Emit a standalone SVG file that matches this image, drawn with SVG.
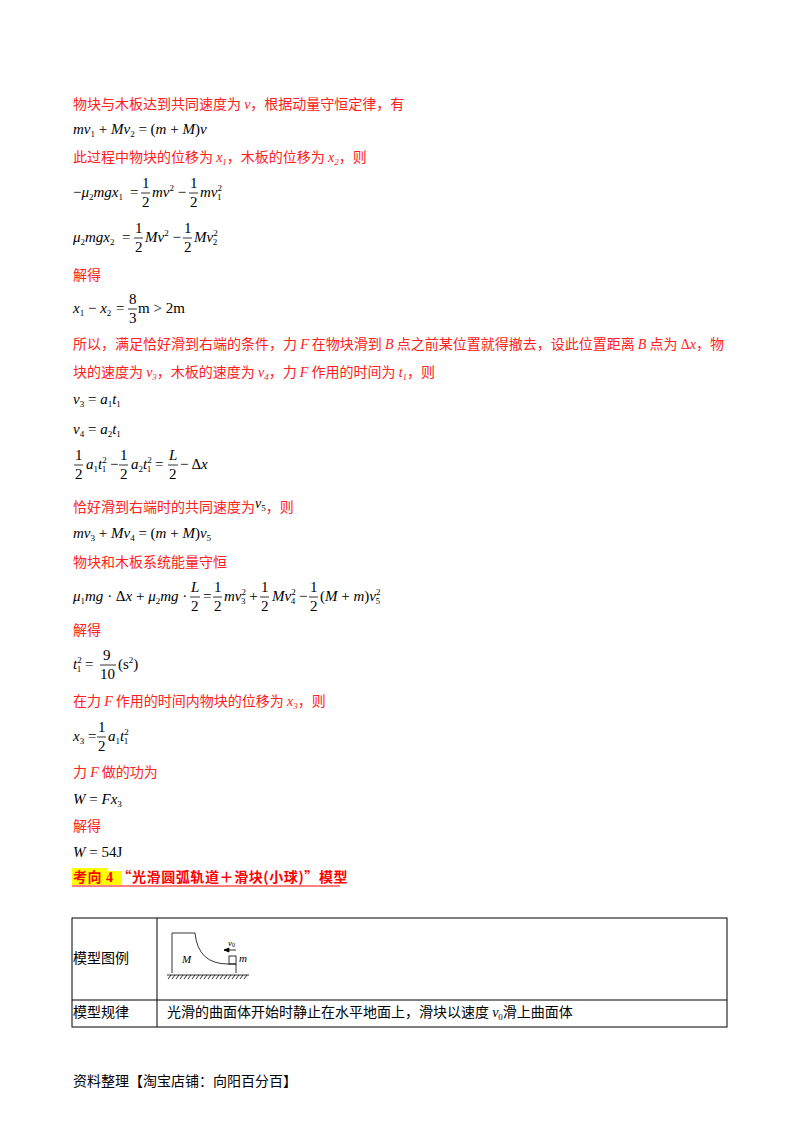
<svg xmlns="http://www.w3.org/2000/svg" width="800" height="1132" viewBox="0 0 800 1132">
<style>
.r{fill:#ff2020;font-family:"Noto Sans CJK SC","Liberation Serif",serif;font-size:14px}
.m{fill:#000;font-family:"Liberation Serif",serif;font-size:15px;font-style:italic}
.n{font-style:normal}
.s{font-size:9px}
.fl{stroke:#000;stroke-width:0.8}
.k{fill:#000;font-family:"Noto Sans CJK SC",sans-serif;font-size:14px}
</style>
<rect width="800" height="1132" fill="#fff"/>
<g id="text">
<text class="r" x="73" y="109">物块与木板达到共同速度为 <tspan font-family="Liberation Serif" font-style="italic">v</tspan>，根据动量守恒定律，有</text>
<text class="m" x="73" y="134">mv<tspan class="s n" dy="3">1</tspan><tspan dy="-3" class="n"> + </tspan>Mv<tspan class="s n" dy="3">2</tspan><tspan dy="-3" class="n"> = (</tspan>m<tspan class="n"> + </tspan>M<tspan class="n">)</tspan>v</text>
<text class="r" x="73" y="162">此过程中物块的位移为 <tspan font-family="Liberation Serif" font-style="italic">x<tspan font-size="9" dy="3">1</tspan></tspan><tspan dy="-3">，木板的位移为 </tspan><tspan font-family="Liberation Serif" font-style="italic">x<tspan font-size="9" dy="3">2</tspan></tspan><tspan dy="-3">，则</tspan></text>
<text class="m" x="73" y="197"><tspan class="n">−</tspan>μ<tspan class="s n" dy="3">2</tspan><tspan dy="-3">mgx</tspan><tspan class="s n" dy="3">1</tspan></text>
<text class="m n" x="130" y="197">=</text>
<text class="m n" x="142" y="188">1</text><line class="fl" x1="141" y1="193" x2="150" y2="193"/><text class="m n" x="142" y="207">2</text>
<text class="m" x="152" y="197">mv<tspan class="s n" dy="-6">2</tspan><tspan class="n" dy="6"> −</tspan></text>
<text class="m n" x="190" y="188">1</text><line class="fl" x1="189" y1="193" x2="198" y2="193"/><text class="m n" x="190" y="207">2</text>
<text class="m" x="200" y="197">mv<tspan class="s n" dy="-6">2</tspan><tspan class="s n" dx="-5" dy="9">1</tspan></text>
<text class="m" x="73" y="242">μ<tspan class="s n" dy="3">2</tspan><tspan dy="-3">mgx</tspan><tspan class="s n" dy="3">2</tspan></text>
<text class="m n" x="122" y="242">=</text>
<text class="m n" x="135" y="233">1</text><line class="fl" x1="134" y1="238" x2="143" y2="238"/><text class="m n" x="135" y="252">2</text>
<text class="m" x="145" y="242">Mv<tspan class="s n" dy="-6">2</tspan><tspan class="n" dy="6"> −</tspan></text>
<text class="m n" x="184" y="233">1</text><line class="fl" x1="183" y1="238" x2="192" y2="238"/><text class="m n" x="184" y="252">2</text>
<text class="m" x="194" y="242">Mv<tspan class="s n" dy="-6">2</tspan><tspan class="s n" dx="-5" dy="9">2</tspan></text>
<text class="r" x="73" y="280">解得</text>
<text class="m" x="73" y="313">x<tspan class="s n" dy="3">1</tspan><tspan class="n" dy="-3"> − </tspan>x<tspan class="s n" dy="3">2</tspan></text>
<text class="m n" x="116" y="313">=</text>
<text class="m n" x="129" y="304">8</text><line class="fl" x1="128" y1="309" x2="137" y2="309"/><text class="m n" x="129" y="323">3</text>
<text class="m n" x="138" y="313">m &gt; 2m</text>
<text class="r" x="73" y="349">所以，满足恰好滑到右端的条件，力 <tspan font-family="Liberation Serif" font-style="italic">F</tspan> 在物块滑到 <tspan font-family="Liberation Serif" font-style="italic">B</tspan> 点之前某位置就得撤去，设此位置距离 <tspan font-family="Liberation Serif" font-style="italic">B</tspan> 点为 <tspan font-family="Liberation Serif">Δ<tspan font-style="italic">x</tspan></tspan>，物</text>
<text class="r" x="73" y="377">块的速度为 <tspan font-family="Liberation Serif" font-style="italic">v<tspan font-size="9" dy="3">3</tspan></tspan><tspan dy="-3">，木板的速度为 </tspan><tspan font-family="Liberation Serif" font-style="italic">v<tspan font-size="9" dy="3">4</tspan></tspan><tspan dy="-3">，力 </tspan><tspan font-family="Liberation Serif" font-style="italic">F</tspan> 作用的时间为 <tspan font-family="Liberation Serif" font-style="italic">t<tspan font-size="9" dy="3">1</tspan></tspan><tspan dy="-3">，则</tspan></text>
<text class="m" x="73" y="404">v<tspan class="s n" dy="3">3</tspan><tspan class="n" dy="-3"> = </tspan>a<tspan class="s n" dy="3">1</tspan><tspan dy="-3">t</tspan><tspan class="s n" dy="3">1</tspan></text>
<text class="m" x="73" y="434">v<tspan class="s n" dy="3">4</tspan><tspan class="n" dy="-3"> = </tspan>a<tspan class="s n" dy="3">2</tspan><tspan dy="-3">t</tspan><tspan class="s n" dy="3">1</tspan></text>
<text class="m n" x="75" y="460">1</text><line class="fl" x1="74" y1="465" x2="83" y2="465"/><text class="m n" x="75" y="479">2</text>
<text class="m" x="86" y="469">a<tspan class="s n" dy="3">1</tspan><tspan dy="-3">t</tspan><tspan class="s n" dy="-6">2</tspan><tspan class="s n" dx="-5" dy="9">1</tspan><tspan class="n" dy="-3"> −</tspan></text>
<text class="m n" x="120" y="460">1</text><line class="fl" x1="119" y1="465" x2="128" y2="465"/><text class="m n" x="120" y="479">2</text>
<text class="m" x="131" y="469">a<tspan class="s n" dy="3">2</tspan><tspan dy="-3">t</tspan><tspan class="s n" dy="-6">2</tspan><tspan class="s n" dx="-5" dy="9">1</tspan><tspan class="n" dy="-3"> =</tspan></text>
<text class="m" x="169" y="460">L</text><line class="fl" x1="168" y1="465" x2="178" y2="465"/><text class="m n" x="169" y="479">2</text>
<text class="m" x="180" y="469"><tspan class="n">− Δ</tspan>x</text>
<text class="r" x="73" y="512">恰好滑到右端时的共同速度为<tspan font-family="Liberation Serif" font-style="italic" fill="#000" dy="-4">v<tspan font-size="9" dy="3" font-style="normal">5</tspan></tspan><tspan dy="1">，则</tspan></text>
<text class="m" x="73" y="538">mv<tspan class="s n" dy="3">3</tspan><tspan class="n" dy="-3"> + </tspan>Mv<tspan class="s n" dy="3">4</tspan><tspan class="n" dy="-3"> = (</tspan>m<tspan class="n"> + </tspan>M<tspan class="n">)</tspan>v<tspan class="s n" dy="3">5</tspan></text>
<text class="r" x="73" y="567">物块和木板系统能量守恒</text>
<text class="m" x="73" y="601">μ<tspan class="s n" dy="3">1</tspan><tspan dy="-3">mg</tspan><tspan class="n"> · Δ</tspan>x<tspan class="n"> + </tspan>μ<tspan class="s n" dy="3">2</tspan><tspan dy="-3">mg</tspan><tspan class="n"> ·</tspan></text>
<text class="m" x="191" y="592">L</text><line class="fl" x1="190" y1="597" x2="200" y2="597"/><text class="m n" x="191" y="611">2</text>
<text class="m n" x="203" y="601">=</text>
<text class="m n" x="214" y="592">1</text><line class="fl" x1="213" y1="597" x2="222" y2="597"/><text class="m n" x="214" y="611">2</text>
<text class="m" x="224" y="601">mv<tspan class="s n" dy="-6">2</tspan><tspan class="s n" dx="-5" dy="9">3</tspan><tspan class="n" dy="-3"> +</tspan></text>
<text class="m n" x="261" y="592">1</text><line class="fl" x1="260" y1="597" x2="269" y2="597"/><text class="m n" x="261" y="611">2</text>
<text class="m" x="272" y="601">Mv<tspan class="s n" dy="-6">2</tspan><tspan class="s n" dx="-5" dy="9">4</tspan><tspan class="n" dy="-3"> −</tspan></text>
<text class="m n" x="310" y="592">1</text><line class="fl" x1="309" y1="597" x2="318" y2="597"/><text class="m n" x="310" y="611">2</text>
<text class="m" x="320" y="601"><tspan class="n">(</tspan>M<tspan class="n"> + </tspan>m<tspan class="n">)</tspan>v<tspan class="s n" dy="-6">2</tspan><tspan class="s n" dx="-5" dy="9">5</tspan></text>
<text class="r" x="73" y="635">解得</text>
<text class="m" x="73" y="669">t<tspan class="s n" dy="-6">2</tspan><tspan class="s n" dx="-5" dy="9">1</tspan><tspan class="n" dy="-3"> =</tspan></text>
<text class="m n" x="103" y="660">9</text><line class="fl" x1="100" y1="665" x2="116" y2="665"/><text class="m n" x="100" y="679">10</text>
<text class="m n" x="118" y="669">(s<tspan class="s" dy="-6">2</tspan><tspan dy="6">)</tspan></text>
<text class="r" x="73" y="706">在力 <tspan font-family="Liberation Serif" font-style="italic">F</tspan> 作用的时间内物块的位移为 <tspan font-family="Liberation Serif" font-style="italic">x<tspan font-size="9" dy="3">3</tspan></tspan><tspan dy="-3">，则</tspan></text>
<text class="m" x="73" y="741">x<tspan class="s n" dy="3">3</tspan><tspan class="n" dy="-3"> =</tspan></text>
<text class="m n" x="98" y="732">1</text><line class="fl" x1="97" y1="737" x2="106" y2="737"/><text class="m n" x="98" y="751">2</text>
<text class="m" x="108" y="741">a<tspan class="s n" dy="3">1</tspan><tspan dy="-3">t</tspan><tspan class="s n" dy="-6">2</tspan><tspan class="s n" dx="-5" dy="9">1</tspan></text>
<text class="r" x="73" y="777">力 <tspan font-family="Liberation Serif" font-style="italic">F</tspan> 做的功为</text>
<text class="m" x="73" y="804">W<tspan class="n"> = </tspan>Fx<tspan class="s n" dy="3">3</tspan></text>
<text class="r" x="73" y="831">解得</text>
<text class="m" x="73" y="857">W<tspan class="n"> = 54J</tspan></text>
</g>
<g id="heading">
<rect x="72" y="868" width="36" height="17" fill="#ffff00"/>
<rect x="108" y="871" width="14" height="14" fill="#ffff00"/>
<text x="73" y="882" fill="#ff0000" font-family="'Noto Sans CJK SC',sans-serif" font-size="14" font-weight="bold" letter-spacing="0.6">考向 <tspan font-family="Liberation Serif">4</tspan>   “光滑圆弧轨道＋滑块(小球)”模型</text>
<line x1="72" y1="886" x2="340" y2="886" stroke="#ff0000" stroke-width="1"/>
</g>
<g id="table" fill="none" stroke="#000" stroke-width="1">
<rect x="72" y="918" width="655" height="109"/>
<line x1="72" y1="1000" x2="727" y2="1000"/>
<line x1="157" y1="918" x2="157" y2="1027"/>
</g>
<g id="cells">
<text class="k" x="73" y="963">模型图例</text>
<text class="k" x="73" y="1017">模型规律</text>
<text class="k" x="167" y="1017">光滑的曲面体开始时静止在水平地面上，滑块以速度 <tspan font-family="Liberation Serif" font-style="italic">v</tspan><tspan font-family="Liberation Serif" font-size="9" dy="3">0</tspan><tspan dy="-3">滑上曲面体</tspan></text>
</g>
<g id="figure" fill="none" stroke="#000" stroke-width="0.8">
<path d="M172 973 V933 H195 Q198 964 228 964 H236 V973"/>
<rect x="229" y="956" width="7" height="8"/>
<line x1="167" y1="975" x2="249" y2="975"/>
<path d="M168 979 l3 -4 M172 979 l3 -4 M176 979 l3 -4 M180 979 l3 -4 M184 979 l3 -4 M188 979 l3 -4 M192 979 l3 -4 M196 979 l3 -4 M200 979 l3 -4 M204 979 l3 -4 M208 979 l3 -4 M212 979 l3 -4 M216 979 l3 -4 M220 979 l3 -4 M224 979 l3 -4 M228 979 l3 -4 M232 979 l3 -4 M236 979 l3 -4 M240 979 l3 -4 M244 979 l3 -4"/>
<line x1="224" y1="950" x2="236" y2="950"/>
<path d="M224 950 l5 -2 v4 z" fill="#000"/>
<text x="182" y="963" fill="#000" stroke="none" font-family="Liberation Serif" font-style="italic" font-size="11">M</text>
<text x="239" y="962" fill="#000" stroke="none" font-family="Liberation Serif" font-style="italic" font-size="11">m</text>
<text x="228" y="946" fill="#000" stroke="none" font-family="Liberation Serif" font-style="italic" font-size="9">v<tspan font-size="6" dy="1" font-style="normal">0</tspan></text>
</g>
<text class="k" x="73" y="1086" font-size="13">资料整理【淘宝店铺：向阳百分百】</text>
</svg>
